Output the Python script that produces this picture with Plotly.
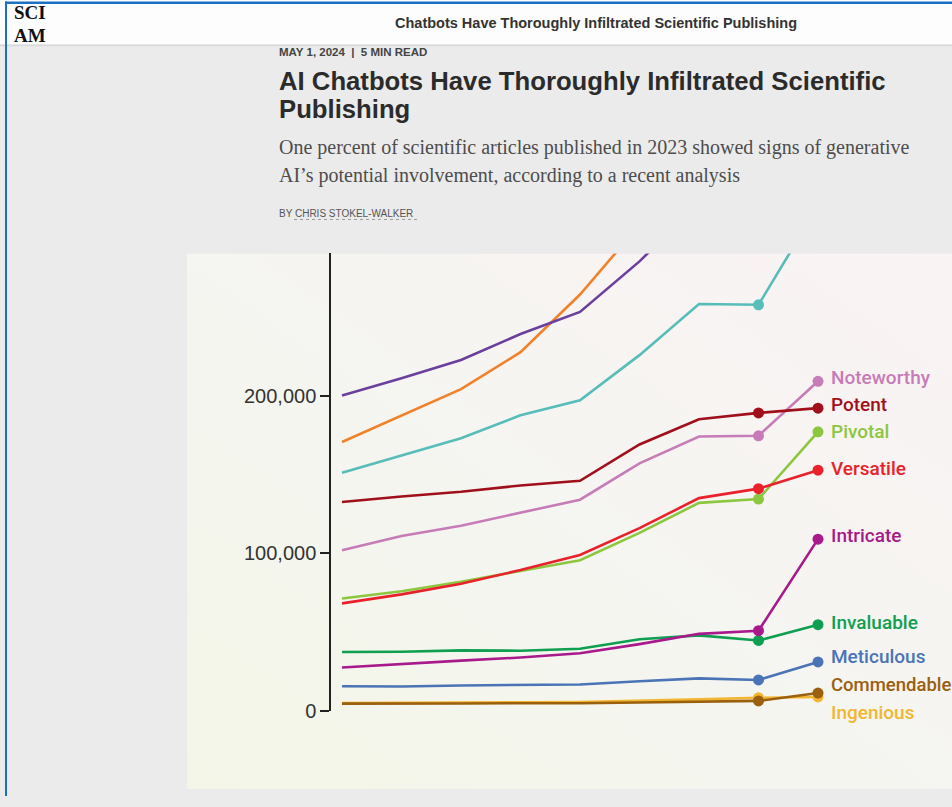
import base64
import plotly.graph_objects as go

# ---------------- data (thousands of articles per year) ----------------
years = [2015, 2016, 2017, 2018, 2019, 2020, 2021, 2022, 2023]

words = ["Noteworthy", "Potent", "Pivotal", "Versatile", "Intricate",
         "Invaluable", "Meticulous", "Commendable", "Ingenious"]

noteworthy = [102, 111, 117.5, 125.6, 134, 157, 174, 174.5, 209]
potent = [132.5, 136, 139, 143, 146, 169, 185, 189, 192]
pivotal = [71.4, 76, 82, 89, 95.6, 113, 132, 134.4, 177]
versatile = [68.3, 74, 80.8, 89.4, 99, 116, 135, 141, 152.7]
intricate = [27.7, 30, 32, 34, 36.7, 42.5, 49, 51, 109]
invaluable = [37.5, 37.7, 38.5, 38.3, 39.6, 45.6, 48, 44.8, 54.8]
meticulous = [15.8, 15.6, 16.3, 16.5, 16.9, 19, 20.8, 19.8, 31.2]
commendable = [4.8, 4.7, 4.9, 5.0, 5.0, 5.5, 6.0, 6.5, 11.5]
ingenious = [5.2, 5.2, 5.4, 5.6, 5.8, 6.5, 7.5, 8.5, 9.0]

# lines whose labels are cropped off the top of the view
offscale_purple = [200, 211, 222.5, 239, 253, 285, 322, 340, 420]
offscale_orange = [170.6, 187.5, 204, 227.5, 264, 308, 350, 370, 450]
offscale_teal = [151, 162, 173, 187.5, 197, 225.6, 258, 257.5, 320]

tick_values = [0, 100, 200]
tick_labels = ["0", "100,000", "200,000"]

# ---------------- styling ----------------
W, H = 952, 807
def px(x):
    return x / W
def py(y):
    return 1 - y / H

colors = {
    "Noteworthy": "#c77cb7",
    "Potent": "#a1101a",
    "Pivotal": "#8dc63f",
    "Versatile": "#e8212b",
    "Intricate": "#a8198c",
    "Invaluable": "#0f9f50",
    "Meticulous": "#4a74b6",
    "Commendable": "#9a600e",
    "Ingenious": "#f3b631",
}
label_shift = {
    "Noteworthy": 4, "Potent": 4, "Pivotal": 0, "Versatile": 2,
    "Intricate": 4, "Invaluable": 2, "Meticulous": 5,
    "Commendable": 8, "Ingenious": -16,
}
label_size = {w: 19 for w in words}
label_size["Commendable"] = 18.5
series = {
    "Noteworthy": noteworthy, "Potent": potent, "Pivotal": pivotal,
    "Versatile": versatile, "Intricate": intricate, "Invaluable": invaluable,
    "Meticulous": meticulous, "Commendable": commendable, "Ingenious": ingenious,
}

fig = go.Figure()

marker_sizes = [0] * (len(years) - 2) + [11, 11]

def add_line(vals, color, name):
    fig.add_trace(go.Scatter(
        x=years, y=[v * 1000 for v in vals], mode="lines+markers", name=name,
        line=dict(color=color, width=2.6),
        marker=dict(size=marker_sizes, color=color, opacity=1, line=dict(width=0)),
        hoverinfo="skip", showlegend=False,
    ))

add_line(offscale_orange, "#f0822b", "off-scale 1")
add_line(offscale_purple, "#6b3f9d", "off-scale 2")
add_line(offscale_teal, "#56bdb8", "off-scale 3")
for w in ["Ingenious", "Commendable", "Meticulous", "Invaluable", "Intricate",
          "Pivotal", "Versatile", "Noteworthy", "Potent"]:
    add_line(series[w], colors[w], w)

# word labels at line ends
for w in words:
    fig.add_annotation(
        x=years[-1], y=series[w][-1] * 1000, xref="x", yref="y",
        text=w, showarrow=False, xanchor="left", yanchor="middle",
        xshift=11, yshift=label_shift[w],
        font=dict(family="Roboto, Liberation Sans, sans-serif", size=label_size[w],
                  color=colors[w], weight=500),
    )

# ---------------- page decoration ----------------
shapes = []
shapes.append(dict(type="rect", xref="paper", yref="paper", layer="below",
                   x0=0, x1=1, y0=py(45), y1=py(0), fillcolor="#fdfdfd", line_width=0))
shapes.append(dict(type="rect", xref="paper", yref="paper", layer="below",
                   x0=0, x1=1, y0=py(47), y1=py(45), fillcolor="#d9d9d9", line_width=0))
shapes.append(dict(type="rect", xref="paper", yref="paper", layer="above",
                   x0=px(5), x1=1, y0=py(4), y1=py(1.5), fillcolor="#1c70c3", line_width=0))
shapes.append(dict(type="rect", xref="paper", yref="paper", layer="above",
                   x0=px(5), x1=px(7), y0=0, y1=py(1.5), fillcolor="#1c70c3", line_width=0))
shapes.append(dict(type="line", xref="paper", yref="paper",
                   x0=px(294), x1=px(417), y0=py(222.5), y1=py(222.5),
                   line=dict(color="#9a9a9a", width=1, dash="dot")))

svg = ("<svg xmlns='http://www.w3.org/2000/svg' width='765' height='543' preserveAspectRatio='none'>"
       "<defs><linearGradient id='g' x1='0' y1='1' x2='1' y2='0'>"
       "<stop offset='0' stop-color='#f3f6e7'/><stop offset='0.5' stop-color='#f5f5f1'/>"
       "<stop offset='1' stop-color='#faf3f4'/></linearGradient></defs>"
       "<rect width='765' height='543' fill='url(#g)'/></svg>")
svg_uri = "data:image/svg+xml;base64," + base64.b64encode(svg.encode()).decode()

logo_font = dict(family="Liberation Serif, Times New Roman, serif", size=19, color="#111111")
texts = [
    dict(x=px(596), y=py(23), text="<b>Chatbots Have Thoroughly Infiltrated Scientific Publishing</b>",
         font=dict(family="Liberation Sans, Arial, sans-serif", size=14.5, color="#333333"),
         xanchor="center", yanchor="middle"),
    dict(x=px(13), y=py(24), text="<b>SCI</b>", font=logo_font,
         xanchor="left", yanchor="bottom", borderpad=0),
    dict(x=px(13), y=py(24), text="<b>AM</b>", font=logo_font,
         xanchor="left", yanchor="top", borderpad=0),
    dict(x=px(277), y=py(53), text="<b>MAY 1, 2024  |  5 MIN READ</b>",
         font=dict(family="Liberation Sans, Arial, sans-serif", size=11.5, color="#444444"),
         xanchor="left", yanchor="middle"),
    dict(x=px(277), y=py(82), text="<b>AI Chatbots Have Thoroughly Infiltrated Scientific</b>",
         font=dict(family="Liberation Sans, Arial, sans-serif", size=25.7, color="#2b2b2b"),
         xanchor="left", yanchor="middle"),
    dict(x=px(277), y=py(111), text="<b>Publishing</b>",
         font=dict(family="Liberation Sans, Arial, sans-serif", size=25.7, color="#2b2b2b"),
         xanchor="left", yanchor="middle"),
    dict(x=px(277), y=py(150), text="One percent of scientific articles published in 2023 showed signs of generative",
         font=dict(family="Liberation Serif, Times New Roman, serif", size=20, color="#4d4d4d"),
         xanchor="left", yanchor="middle"),
    dict(x=px(277), y=py(178), text="AI’s potential involvement, according to a recent analysis",
         font=dict(family="Liberation Serif, Times New Roman, serif", size=20, color="#4d4d4d"),
         xanchor="left", yanchor="middle"),
    dict(x=px(277), y=py(216), text="BY CHRIS STOKEL-WALKER",
         font=dict(family="Liberation Sans, Arial, sans-serif", size=10, color="#555555"),
         xanchor="left", yanchor="middle"),
]
for t in texts:
    fig.add_annotation(xref="paper", yref="paper", showarrow=False, **t)

fig.update_layout(
    width=W, height=H,
    margin=dict(l=0, r=0, t=0, b=0, pad=0),
    paper_bgcolor="#ebebeb",
    plot_bgcolor="rgba(0,0,0,0)",
    shapes=shapes,
    images=[dict(source=svg_uri, xref="paper", yref="paper",
                 x=px(187), y=py(257), sizex=(W - 187) / W, sizey=(800 - 257) / H,
                 xanchor="left", yanchor="top", sizing="stretch", layer="below")],
    xaxis=dict(domain=[px(331), 1], range=[2015 - 11 / 59.5, 2015 + (W - 342) / 59.5],
               visible=False, fixedrange=True),
    yaxis=dict(domain=[py(721), py(257)], range=[0, 290000],
               tickvals=[v * 1000 for v in tick_values], ticktext=tick_labels,
               ticks="outside", ticklen=9, tickwidth=1.5, tickcolor="#222222",
               showline=True, linecolor="#222222", linewidth=1.5,
               showgrid=False, zeroline=False,
               tickfont=dict(family="Liberation Sans, Arial, sans-serif", size=20, color="#333333"),
               fixedrange=True),
    hovermode=False,
)

fig.write_html("out.html", config={"displayModeBar": False},
               post_script="document.body.style.margin='0';")
